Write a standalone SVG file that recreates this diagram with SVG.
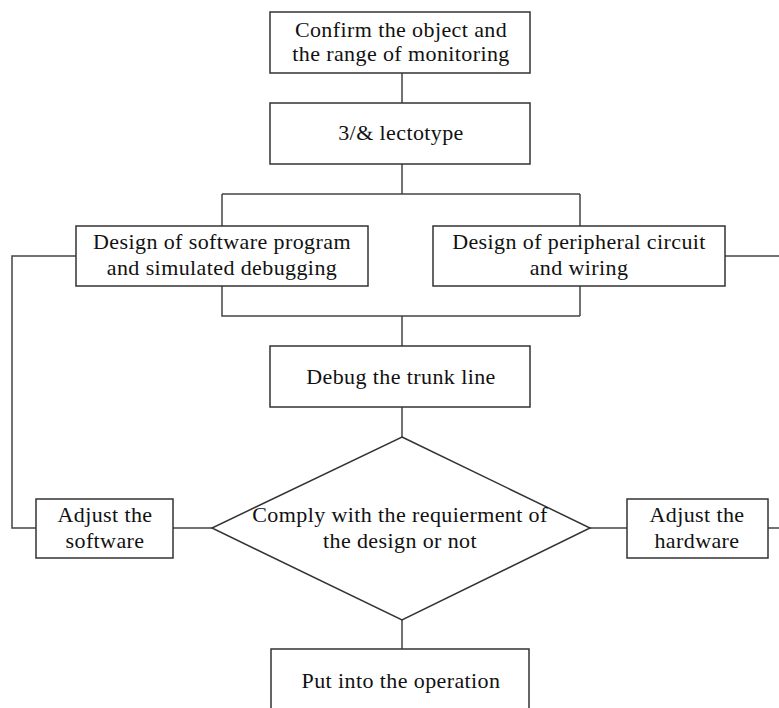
<svg xmlns="http://www.w3.org/2000/svg" width="779" height="708" viewBox="0 0 779 708">
<style>
.box{fill:#fff;stroke:#333;stroke-width:1.5}
.ln{fill:none;stroke:#444;stroke-width:1.5}
text{font-family:"Liberation Serif","Times New Roman",serif;font-size:22px;letter-spacing:0.4px;fill:#111;text-anchor:middle}
</style>
<rect width="779" height="708" fill="#fff"/>
<g id="connectors">
<path class="ln" d="M402 73V103M402 164V194M222 194H580M222 194V226M580 194V226M222 286V316H580M580 286V316M402 316V346M402 407V437M402 620V649"/>
<path class="ln" d="M76 256H12V528H36M173 528H212M590 528H627M768 528H779M725 256H779"/>
</g>
<g id="confirm"><rect class="box" x="270" y="12" width="260" height="61"/><text x="401" y="37">Confirm the object and</text><text x="401" y="61">the range of monitoring</text></g>
<g id="lectotype"><rect class="box" x="270" y="103" width="260" height="61"/><text x="401" y="140">3/&amp; lectotype</text></g>
<g id="software"><rect class="box" x="76" y="226" width="292" height="60"/><text x="222" y="249">Design of software program</text><text x="222" y="275">and simulated debugging</text></g>
<g id="peripheral"><rect class="box" x="433" y="226" width="292" height="60"/><text x="579" y="249">Design of peripheral circuit</text><text x="579" y="275">and wiring</text></g>
<g id="debug"><rect class="box" x="270" y="346" width="260" height="61"/><text x="401" y="384">Debug the trunk line</text></g>
<g id="decision"><polygon class="box" points="402,437 590,528 402,620 212,528"/><text x="400" y="522">Comply with the requierment of</text><text x="400" y="548">the design or not</text></g>
<g id="adjsw"><rect class="box" x="36" y="499" width="137" height="59"/><text x="105" y="522">Adjust the</text><text x="105" y="548">software</text></g>
<g id="adjhw"><rect class="box" x="627" y="499" width="141" height="59"/><text x="697" y="522">Adjust the</text><text x="697" y="548">hardware</text></g>
<g id="operation"><rect class="box" x="271" y="649" width="258" height="70"/><text x="401" y="688">Put into the operation</text></g>
</svg>
